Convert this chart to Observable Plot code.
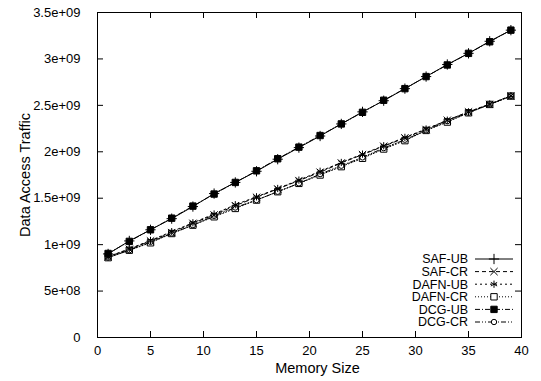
<!DOCTYPE html>
<html>
<head>
<meta charset="utf-8">
<script src="https://cdn.jsdelivr.net/npm/d3@7"></script>
<script src="https://cdn.jsdelivr.net/npm/@observablehq/plot@0.6"></script>
<style>
  body { margin: 0; background: #fff; }
  #wrap { position: relative; width: 541px; height: 381px; }
  #wrap svg { position: absolute; left: 0; top: 0; }
</style>
</head>
<body>
<div id="wrap"></div>
<script>
// ---- data ----
const memorySize = [1,3,5,7,9,11,13,15,17,19,21,23,25,27,29,31,33,35,37,39];
const safUB  = [0.900,1.040,1.160,1.280,1.410,1.550,1.670,1.790,1.920,2.045,2.170,2.300,2.430,2.550,2.680,2.810,2.940,3.060,3.190,3.310].map(v => v * 1e9);
const safCR  = [0.870,0.950,1.040,1.130,1.230,1.320,1.420,1.510,1.600,1.690,1.780,1.880,1.970,2.060,2.150,2.240,2.340,2.430,2.510,2.600].map(v => v * 1e9);
const dafnUB = [0.870,0.955,1.045,1.140,1.235,1.330,1.430,1.515,1.605,1.695,1.790,1.885,1.975,2.065,2.155,2.245,2.340,2.430,2.515,2.605].map(v => v * 1e9);
const dafnCR = [0.860,0.940,1.020,1.120,1.210,1.300,1.390,1.480,1.570,1.660,1.750,1.840,1.930,2.030,2.120,2.230,2.320,2.420,2.510,2.600].map(v => v * 1e9);
const dcgUB  = [0.905,1.035,1.160,1.285,1.415,1.545,1.670,1.795,1.925,2.050,2.175,2.300,2.425,2.555,2.680,2.810,2.935,3.060,3.185,3.310].map(v => v * 1e9);
const dcgCR  = [0.860,0.940,1.030,1.120,1.210,1.310,1.400,1.480,1.570,1.660,1.760,1.850,1.940,2.040,2.130,2.230,2.330,2.420,2.510,2.600].map(v => v * 1e9);

const seriesNames = ["SAF-UB","SAF-CR","DAFN-UB","DAFN-CR","DCG-UB","DCG-CR"];
const seriesValues = [safUB, safCR, dafnUB, dafnCR, dcgUB, dcgCR];

const xTicks = [0,5,10,15,20,25,30,35,40];
const yTicks = [0,5e8,1e9,1.5e9,2e9,2.5e9,3e9,3.5e9];
const yTickLabels = ["0","5e+08","1e+09","1.5e+09","2e+09","2.5e+09","3e+09","3.5e+09"];

// ---- styles ----
const styles = {
  "SAF-UB":  {dash: null,        symbol: "plus",     fill: "none",  r: 3.4},
  "SAF-CR":  {dash: "4,3",       symbol: "times",    fill: "none",  r: 3.4},
  "DAFN-UB": {dash: "2,3",       symbol: "asterisk", fill: "none",  r: 3.4},
  "DAFN-CR": {dash: "1,2",       symbol: "square",   fill: "white", r: 3.6},
  "DCG-UB":  {dash: "5,2,1,2",   symbol: "square",   fill: "black", r: 3.6},
  "DCG-CR":  {dash: "5,2,1,2,1,2", symbol: "circle", fill: "white", r: 2.7}
};

const rows = [];
seriesNames.forEach((s, i) => memorySize.forEach((x, j) => rows.push({series: s, x, y: seriesValues[i][j]})));

const W = 541, H = 381, mL = 97, mR = 20, mT = 12, mB = 44;
const fw = W - mL - mR, fh = H - mT - mB, tk = 6;
const font = "'Liberation Sans', Arial, Helvetica, sans-serif";

const marks = [];
// inward ticks on all sides
marks.push(Plot.ruleX(xTicks, {x: d => d, insetTop: fh - tk, stroke: "black"}));
marks.push(Plot.ruleX(xTicks, {x: d => d, insetBottom: fh - tk, stroke: "black"}));
marks.push(Plot.ruleY(yTicks, {y: d => d, insetRight: fw - tk, stroke: "black"}));
marks.push(Plot.ruleY(yTicks, {y: d => d, insetLeft: fw - tk, stroke: "black"}));
marks.push(Plot.axisX({ticks: xTicks, tickSize: 0, tickPadding: 8, label: null, fontSize: 13}));
marks.push(Plot.axisY({ticks: yTicks, tickSize: 0, tickPadding: 17, label: null, fontSize: 13,
  tickFormat: d => yTickLabels[yTicks.indexOf(d)]}));

const drawOrder = ["DAFN-CR","DCG-CR","SAF-CR","DAFN-UB","DCG-UB","SAF-UB"];
for (const s of drawOrder) {
  const st = styles[s];
  const d = rows.filter(r => r.series === s);
  marks.push(Plot.line(d, {x: "x", y: "y", stroke: "black", strokeWidth: 1, strokeDasharray: st.dash}));
}
for (const s of drawOrder) {
  const st = styles[s];
  const d = rows.filter(r => r.series === s);
  const isStroke = ["plus","times","asterisk"].includes(st.symbol);
  marks.push(Plot.dot(d, {x: "x", y: "y", symbol: st.symbol, r: st.r,
    stroke: "black", strokeWidth: 1, fill: isStroke ? "none" : st.fill}));
}
marks.push(Plot.frame({stroke: "black"}));
marks.push(Plot.text(["Memory Size"], {text: d => d, frameAnchor: "bottom", textAnchor: "middle", lineAnchor: "middle", dy: 31, dx: 8, fontSize: 14.5}));
marks.push(Plot.text(["Data Access Traffic"], {text: d => d, frameAnchor: "left", textAnchor: "middle", lineAnchor: "middle", dx: -72, rotate: -90, fontSize: 14.5}));

const chart = Plot.plot({
  width: W, height: H,
  marginLeft: mL, marginRight: mR, marginTop: mT, marginBottom: mB,
  style: {fontFamily: font, color: "black", background: "white", fontSize: "13px"},
  x: {domain: [0, 40]},
  y: {domain: [0, 3.5e9]},
  marks
});
document.getElementById("wrap").appendChild(chart);

// ---- legend overlay ----
const leg = d3.select("#wrap").append("svg").attr("width", W).attr("height", H)
  .style("font-family", font).style("font-size", "12.5px");
const textRight = 468, lineX1 = 475, lineX2 = 513, markX = 494, row0 = 259, rowStep = 12.6;
const symMap = {plus: d3.symbolPlus, times: d3.symbolTimes, asterisk: d3.symbolAsterisk, square: d3.symbolSquare, circle: d3.symbolCircle};
seriesNames.forEach((s, i) => {
  const st = styles[s];
  const cy = row0 + i * rowStep;
  leg.append("text").attr("x", textRight).attr("y", cy).attr("dy", "0.35em")
    .attr("text-anchor", "end").attr("fill", "black").text(s);
  leg.append("line").attr("x1", lineX1).attr("x2", lineX2).attr("y1", cy).attr("y2", cy)
    .attr("stroke", "black").attr("stroke-dasharray", st.dash);
  const isStroke = ["plus","times","asterisk"].includes(st.symbol);
  if (st.symbol === "circle") {
    leg.append("circle").attr("cx", markX).attr("cy", cy).attr("r", st.r)
      .attr("fill", st.fill).attr("stroke", "black");
  } else {
    leg.append("path").attr("transform", `translate(${markX},${cy})`)
      .attr("d", d3.symbol(symMap[st.symbol], st.r * st.r * Math.PI)())
      .attr("fill", isStroke ? "none" : st.fill).attr("stroke", "black");
  }
});
</script>
</body>
</html>
